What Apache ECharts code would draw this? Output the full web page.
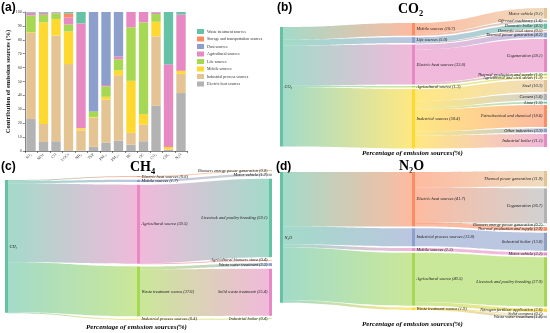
<!DOCTYPE html>
<html><head><meta charset="utf-8">
<script src="https://cdn.jsdelivr.net/npm/echarts@6/dist/echarts.min.js"></script>
<style>html,body{margin:0;padding:0;background:#fff}#c{width:550px;height:333px}</style>
</head><body><div id="c"></div>
<script>
// ---------- Panel (a) data ----------
const pollutants = ['SO\u2082','NOx','CO','VOCs','NH\u2083','TSP','PM\u2081\u2080','PM\u2082.\u2085','BC','OC','CO\u2082','CH\u2084','N\u2082O'];
const sourceNames = ['Electric heat sources','Industrial process sources','Mobile sources','Life sources','Agricultural sources','Dust sources','Storage and transportation sources','Waste treatment sources'];
const electricHeat = [23, 6.5, 7, 0.5, 0.3, 3, 6, 7.5, 4.5, 7, 32.5, 0.8, 41.7];
const industrialProcess = [62, 13, 76, 62, 14.5, 21, 31, 47, 8.5, 12, 50, 0.4, 13.8];
const mobile = [0.5, 73, 12, 23.5, 1.5, 0.5, 2, 3.5, 37.5, 7.5, 10.5, 1.7, 2.2];
const life = [12, 5.5, 4, 5, 0, 4, 7.5, 8, 38.5, 66, 5.5, 0, 0];
const agricultural = [2, 1.5, 0.7, 5, 75.5, 0, 1, 2, 11, 7.5, 1.3, 59.5, 40.5];
const dust = [0, 0, 0, 0, 0, 71.5, 52.5, 32, 0, 0, 0, 0, 0];
const storage = [0, 0, 0, 3, 0, 0, 0, 0, 0, 0, 0, 0, 0];
const waste = [0.5, 0.5, 0.3, 1, 8.2, 0, 0, 0, 0, 0, 0.2, 37.6, 1.9];

// ---------- Panel (b) CO2 ----------
const co2Root = 'CO\u2082';
const co2Sources = ['Mobile sources','Life sources','Electric heat sources','Agricultural source','Industrial sources'];
const co2Sectors = ['Motor vehicle','Off-road machinery','Domestic boiler','Domestic coal stove','Thermal power generation','Cogeneration','Thermal production and supply','Agricultural and civil stoves','Steel','Cement','Lime','Petrochemical and chemical','Other industries','Industrial boiler'];
const co2Parents = [0,0,1,1,2,2,2,3,4,4,4,4,4,4];
const co2Values = [9.1,1.6,4.5,0.5,4.2,28.1,1.5,1.3,10.3,5.6,1.5,18.6,3.3,11.1];

// ---------- Panel (c) CH4 ----------
const ch4Root = 'CH\u2084';
const ch4Sources = ['Electric heat sources','Mobile sources','Agricultural source','Waste treatment source','Industrial process sources'];
const ch4Sectors = ['Biomass energy power generation','Motor vehicle','Livestock and poultry breeding','Agricultural biomass stove','Waste water treatment','Solid waste treatment','Industrial boiler'];
const ch4Parents = [0,1,2,2,3,3,4];
const ch4Values = [0.8,1.7,59.1,0.4,2.2,35.4,0.4];

// ---------- Panel (d) N2O ----------
const n2oRoot = 'N\u2082O';
const n2oSources = ['Electric heat sources','Industrial process sources','Mobile sources','Agricultural source','Waste treatment source'];
const n2oSectors = ['Thermal power generation','Cogeneration','Biomass energy power generation','Thermal production and supply','Industrial boiler','Motor vehicle','Livestock and poultry breeding','Nitrogen fertilizer application','Solid compost','Waste water treatment'];
const n2oParents = [0,0,0,0,1,2,3,3,4,4];
const n2oValues = [11.9,26.7,0.2,2.9,13.8,2.2,37.9,2.6,0.1,1.8];

const palette = ['#66c2a5','#fc8d62','#8da0cb','#e78ac3','#a6d854','#ffd92f','#e5c494','#b3b3b3'];
const barColors = {'Electric heat sources':'#b3b3b3','Industrial process sources':'#e5c494','Mobile sources':'#ffd92f','Life sources':'#a6d854','Agricultural sources':'#e78ac3','Dust sources':'#8da0cb','Storage and transportation sources':'#fc8d62','Waste treatment sources':'#66c2a5'};
const barSeriesData = [electricHeat, industrialProcess, mobile, life, agricultural, dust, storage, waste];

const SERIF = '"Liberation Serif","DejaVu Serif",serif';
const lblFont = {fontFamily: SERIF, fontStyle: 'italic', fontSize: 4.4, color: '#1a1a1a'};

// layout boxes [left, top, width, height], node gaps, and vertical column shifts (px) per depth
const sankeyBoxes = [[280, 8, 267, 139], [5, 170, 267, 149], [280, 171, 267, 147]];
const sankeyGaps = [1.5, 2.7, 1.8];
const columnShift = [[19, 15, 0], [10, 6, 0], [1, 1, 0]];

function buildSankey(root, sources, sectors, parents, values, box, gap) {
  const names = [root].concat(sources, sectors);
  const srcTotals = sources.map(() => 0);
  sectors.forEach((s, i) => { srcTotals[parents[i]] += values[i]; });
  const nodes = names.map((n, i) => ({
    name: n,
    itemStyle: {color: palette[i % palette.length]},
    label: i === 0 ? {position: 'right', formatter: '{b}'} : undefined
  }));
  const links = [];
  sources.forEach((s, i) => links.push({source: root, target: s, value: srcTotals[i]}));
  sectors.forEach((s, i) => links.push({source: sources[parents[i]], target: s, value: values[i]}));
  return {
    type: 'sankey', name: 'sankey-' + root,
    left: box[0], top: box[1], width: box[2], height: box[3],
    nodeWidth: 3, nodeGap: gap, layoutIterations: 0,
    draggable: false,
    emphasis: {disabled: true},
    data: nodes, links: links,
    itemStyle: {borderWidth: 0},
    lineStyle: {color: 'gradient', opacity: 0.6, curveness: 0.5},
    label: Object.assign({position: 'right', distance: 1.5,
      formatter: p => p.name + ' (' + (Math.round(p.value * 10) / 10).toFixed(1) + ')'}, lblFont),
    levels: [{depth: 2, label: {position: 'left'}}]
  };
}

const series = sourceNames.map((n, k) => ({
  name: n, type: 'bar', stack: 'all', data: barSeriesData[k],
  barCategoryGap: '25%', itemStyle: {color: barColors[n]}
}));
series.push(buildSankey(co2Root, co2Sources, co2Sectors, co2Parents, co2Values, sankeyBoxes[0], sankeyGaps[0]));
series.push(buildSankey(ch4Root, ch4Sources, ch4Sectors, ch4Parents, ch4Values, sankeyBoxes[1], sankeyGaps[1]));
series.push(buildSankey(n2oRoot, n2oSources, n2oSectors, n2oParents, n2oValues, sankeyBoxes[2], sankeyGaps[2]));

const legendOrder = sourceNames.slice().reverse();
const titleText = (txt, x, y, size) => ({type: 'text', left: x, top: y, style: {text: txt, fill: '#000', font: size}});

const option = {
  animation: false,
  backgroundColor: '#fff',
  grid: {left: 24.75, top: 12, width: 162.5, height: 139, containLabel: false},
  legend: {data: legendOrder, orient: 'vertical', left: 192, top: 24, itemWidth: 7, itemHeight: 5, itemGap: 2.5,
    icon: 'rect', selectedMode: false, textStyle: {fontFamily: SERIF, fontSize: 4, color: '#333', padding: [0,0,0,-2]}},
  xAxis: {type: 'category', data: pollutants,
    axisLine: {lineStyle: {color: '#333', width: 0.6}}, axisTick: {show: true, length: 2, lineStyle: {width: 0.6}},
    axisLabel: {rotate: 45, fontSize: 4, fontFamily: SERIF, color: '#333', margin: 3}},
  yAxis: {type: 'value', min: 0, max: 100, interval: 10,
    name: 'Contribution of emission sources (%)', nameLocation: 'middle', nameGap: 12,
    nameTextStyle: {fontFamily: SERIF, fontWeight: 'bold', fontSize: 6.5, color: '#222'},
    axisLine: {show: true, lineStyle: {color: '#333', width: 0.6}}, axisTick: {show: true, length: 2, lineStyle: {width: 0.6}},
    splitLine: {show: false},
    axisLabel: {fontSize: 4, fontFamily: SERIF, color: '#333', margin: 3}},
  series: series,
  graphic: [
    titleText('(a)', 1, 2, 'bold 12px "Liberation Sans",Arial,sans-serif'),
    titleText('(b)', 277, 2, 'bold 12px "Liberation Sans",Arial,sans-serif'),
    titleText('(c)', 1, 161, 'bold 12px "Liberation Sans",Arial,sans-serif'),
    titleText('(d)', 276, 161, 'bold 12px "Liberation Sans",Arial,sans-serif'),
    titleText('CO\u2082', 398, 2, 'bold 14px ' + SERIF),
    titleText('CH\u2084', 130, 160, 'bold 14px ' + SERIF),
    titleText('N\u2082O', 399, 159, 'bold 14px ' + SERIF),
    titleText('Percentage of emission sources(%)', 362, 150, 'italic bold 7px ' + SERIF),
    titleText('Percentage of emission sources(%)', 86, 324, 'italic bold 7px ' + SERIF),
    titleText('Percentage of emission sources(%)', 362, 321, 'italic bold 7px ' + SERIF)
  ]
};

const chart = echarts.init(document.getElementById('c'), null, {renderer: 'canvas'});
chart.setOption(option);
// second pass: keep the library's node layout, shift the left/middle columns down a little
try {
  [8, 9, 10].forEach((si, k) => {
    const graph = chart.getModel().getSeriesByIndex(si).getGraph();
    const box = sankeyBoxes[k];
    const data = option.series[si].data.map(d => Object.assign({}, d));
    graph.eachNode(node => {
      const l = node.getLayout();
      const item = data[node.dataIndex];
      item.localX = l.x / box[2];
      item.localY = (l.y + (columnShift[k][l.depth] || 0)) / box[3];
    });
    option.series[si].data = data;
  });
  chart.setOption(option, true);
} catch (e) { console.error(e); }
</script></body></html>
